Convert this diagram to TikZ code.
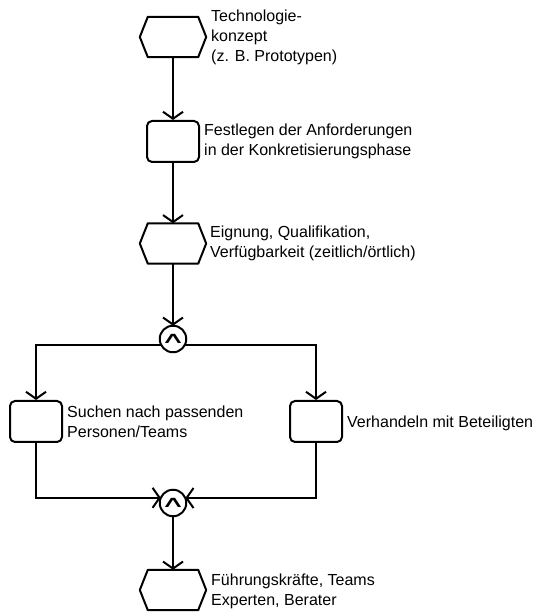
\documentclass[tikz,border=0pt]{standalone}
\usepackage{graphicx}
\usepackage{fontspec}
\setmainfont{Liberation Sans}
\newfontfamily\opfont{DejaVu Sans}
\usetikzlibrary{arrows.meta,calc}

% hexagonal event outline around an (invisible) rectangular node
\newcommand\hexoutline[1]{%
  \draw[shapeline] ($(#1.north west)+(8pt,0)$) -- ($(#1.north east)+(-8pt,0)$)
    -- (#1.east) -- ($(#1.south east)+(-8pt,0)$) -- ($(#1.south west)+(8pt,0)$)
    -- (#1.west) -- cycle;}
% AND operator sign, widened
\newcommand\andsign{\scalebox{1.55}[0.72]{\opfont ∧}}

\begin{document}
\begin{tikzpicture}[x=1pt,y=1pt,
  shapeline/.style={line width=2pt, line join=round},
  flow/.style={line width=2pt, -{Straight Barb[length=7pt,width=20pt]}},
  hexbox/.style={minimum width=66pt, minimum height=40pt, inner sep=0pt},
  fnbox/.style={draw, shapeline, rounded corners=5pt, minimum width=52pt, minimum height=41pt, inner sep=0pt},
  opcircle/.style={draw, shapeline, circle, minimum size=26pt, inner sep=0pt, outer sep=0pt,
    font=\fontsize{22}{22}\selectfont},
  desc/.style={anchor=west, align=left, inner sep=0pt, font=\fontsize{16}{20}\selectfont}
]
\useasboundingbox (0,0) rectangle (552,612);

% events and functions
\node[hexbox] (h1) at (173,575) {};
\hexoutline{h1}
\node[fnbox] (b1) at (173,470.5) {};
\node[hexbox] (h2) at (173,368.5) {};
\hexoutline{h2}
\node[opcircle] (c1) at (173,273) {\andsign};
\node[fnbox] (b2) at (36,190.5) {};
\node[fnbox] (b3) at (316,190.5) {};
\node[opcircle] (c2) at (173,109) {\andsign};
\node[hexbox] (h3) at (173,22) {};
\hexoutline{h3}

% descriptions
\node[desc] (t1) at (211,575) {Technologie-\\konzept\\(z. B. Prototypen)};
\node[desc] (t2) at (204,470.5) {Festlegen der Anforderungen\\in der Konkretisierungsphase};
\node[desc] (t3) at (210,368.5) {Eignung, Qualifikation,\\Verfügbarkeit (zeitlich/örtlich)};
\node[desc] (t4) at (67,190.5) {Suchen nach passenden\\Personen/Teams};
\node[desc] (t5) at (347,189) {Verhandeln mit Beteiligten};
\node[desc] (t6) at (211,21) {Führungskräfte, Teams\\Experten, Berater};

% control flow
\draw[flow] (h1) -- (b1);
\draw[flow] (b1) -- (h2);
\draw[flow] (h2) -- (c1);
\draw[flow] (c1.207.5) -| (b2);
\draw[flow] (c1.-27.5) -| (b3);
\draw[flow] (b2) |- (c2.157.4);
\draw[flow] (b3) |- (c2.22.6);
\draw[flow] (c2) -- (h3);
\end{tikzpicture}
\end{document}
